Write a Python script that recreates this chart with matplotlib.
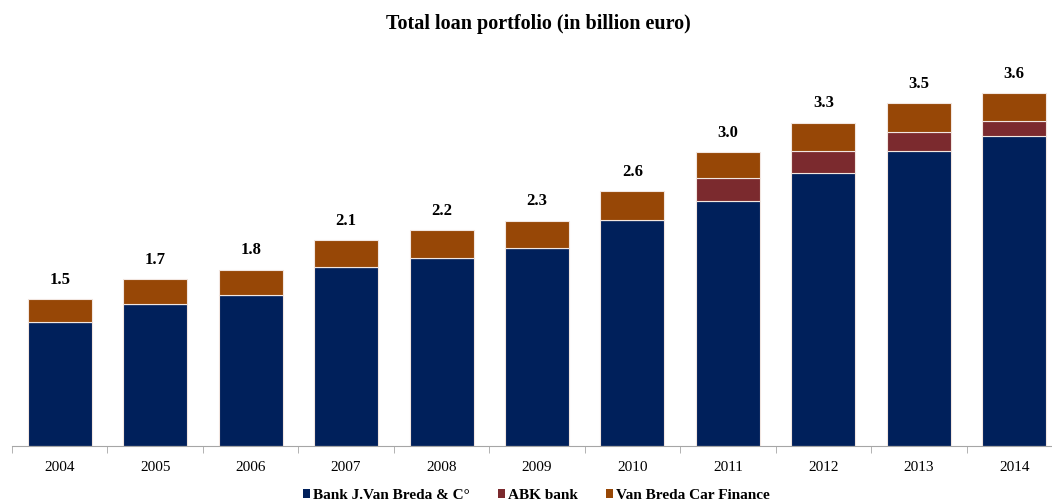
import numpy as np
import matplotlib.pyplot as plt
from matplotlib.patches import Patch

years = ["2004", "2005", "2006", "2007", "2008", "2009",
         "2010", "2011", "2012", "2013", "2014"]
totals = [1.5, 1.7, 1.8, 2.1, 2.2, 2.3, 2.6, 3.0, 3.3, 3.5, 3.6]
bank_vb = [1.27, 1.45, 1.54, 1.83, 1.92, 2.02, 2.31, 2.50, 2.79, 3.01, 3.16]
abk = [0, 0, 0, 0, 0, 0, 0, 0.23, 0.22, 0.19, 0.16]
car_finance = [0.23, 0.25, 0.26, 0.27, 0.28, 0.28, 0.29, 0.27, 0.29, 0.30, 0.28]

series_names = ["Bank J.Van Breda & C°", "ABK bank", "Van Breda Car Finance"]
colors = ["#00205B", "#7B2A2E", "#974706"]

plt.rcParams['font.family'] = ['Liberation Serif', 'DejaVu Serif']

fig = plt.figure(figsize=(10.52, 5.04), dpi=100)
ax = fig.add_axes([12 / 1052, 58 / 504, 1050 / 1052, 386 / 504])

x = np.arange(len(years))
w = 0.67
bottom = np.zeros(len(years))
for vals, c in zip([bank_vb, abk, car_finance], colors):
    vals = np.array(vals)
    ax.bar(x, vals, width=w, bottom=bottom, color=c,
           edgecolor="#f2e6e0", linewidth=0.8)
    bottom += vals

# total above each stack
for xi, t in zip(x, totals):
    ax.annotate(f"{t:.1f}", (xi, t), xytext=(0, 14), textcoords="offset points",
                ha="center", va="center", fontsize=12, fontweight="bold")

ax.set_xlim(-0.5, len(years) - 0.5)
ax.set_ylim(0, 386 / 98)

for s in ["top", "right", "left"]:
    ax.spines[s].set_visible(False)
ax.spines["bottom"].set_color("#a6a6a6")
ax.set_yticks([])
ax.set_xticks(x)
ax.set_xticklabels(years, fontsize=11)
ax.tick_params(axis="x", which="major", length=0, pad=11)
ax.set_xticks(np.arange(-0.5, len(years), 1.0), minor=True)
ax.tick_params(axis="x", which="minor", length=5, color="#a6a6a6")

fig.text(0.512, 0.952, "Total loan portfolio (in billion euro)",
         ha="center", va="center", fontsize=14.5, fontweight="bold")

handles = [Patch(facecolor=c) for c in colors]
fig.legend(handles, series_names, loc="center", bbox_to_anchor=(0.51, 0.017),
           ncol=3, frameon=False, handlelength=0.45, handleheight=0.55,
           handletextpad=0.25, columnspacing=1.8, borderpad=0,
           prop={"weight": "bold", "size": 11})

fig.savefig("out.png", dpi=100)
